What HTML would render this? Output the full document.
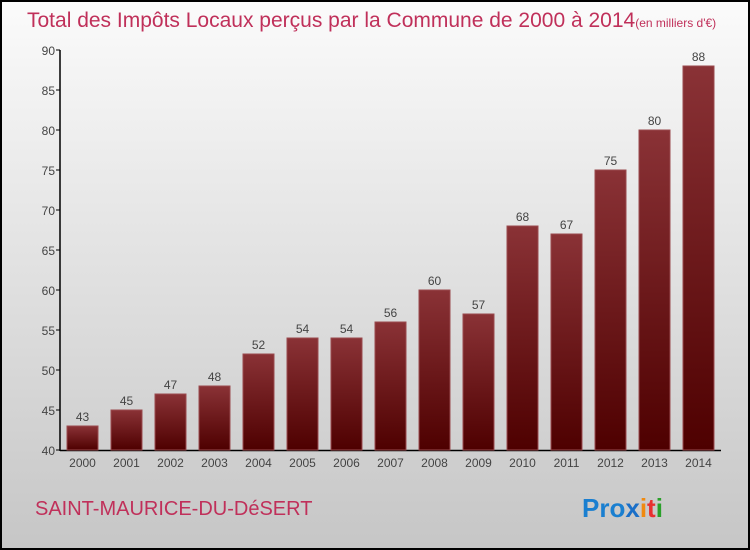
<!DOCTYPE html>
<html><head><meta charset="utf-8"><style>
body{margin:0}
svg{display:block;font-family:"Liberation Sans",sans-serif}
</style></head><body>
<svg id="chart" width="750" height="550" xmlns="http://www.w3.org/2000/svg">
<defs>
<linearGradient id="bg" x1="0" y1="0" x2="0" y2="1"><stop offset="0" stop-color="#fbfbfb"/><stop offset="1" stop-color="#c6c6c6"/></linearGradient>
<linearGradient id="bar" x1="0" y1="0" x2="0" y2="1"><stop offset="0" stop-color="#8a3236"/><stop offset="1" stop-color="#4e0000"/></linearGradient>
</defs>
<rect x="1" y="1" width="748" height="548" fill="url(#bg)" stroke="#000" stroke-width="2"/>
<text x="27" y="27" font-size="21" fill="#c0305a">Total des Impôts Locaux perçus par la Commune de 2000 à 2014<tspan font-size="12">(en milliers d'€)</tspan></text>
<g id="axes"></g>
<g id="bars"></g>
<text x="35" y="515" font-size="20" fill="#c0305a">SAINT-MAURICE-DU-DéSERT</text>
<text x="582" y="517" font-size="26" font-weight="bold"><tspan fill="#1a7fd0">Pro</tspan><tspan fill="#1a6fc8">x</tspan><tspan fill="#f08a10">i</tspan><tspan fill="#e83030">t</tspan><tspan fill="#2aa02a">i</tspan></text>
</svg>
<script>
const years=["2000","2001","2002","2003","2004","2005","2006","2007","2008","2009","2010","2011","2012","2013","2014"];
const values=[43,45,47,48,52,54,54,56,60,57,68,67,75,80,88];
const yTicks=[40,45,50,55,60,65,70,75,80,85,90];
const NS="http://www.w3.org/2000/svg";
const y0=450,yMin=40,pxPer=8;
function yScale(v){return y0-(v-yMin)*pxPer;}
function xScale(i){return 67+i*44;}
function mk(tag,attrs,parent,text){const e=document.createElementNS(NS,tag);for(const k in attrs)e.setAttribute(k,attrs[k]);if(text!==undefined)e.textContent=text;parent.appendChild(e);return e;}
const axes=document.getElementById('axes'),bars=document.getElementById('bars');
let l=mk('line',{x1:60,y1:50,x2:60,y2:451,stroke:'#000','stroke-width':1.5},axes);


l=mk('line',{x1:60,y1:450.5,x2:721,y2:450.5,stroke:'#000','stroke-width':1.5},axes);


yTicks.forEach(t=>{const y=yScale(t);
 const tk=mk('line',{x1:56,y1:y,x2:60,y2:y,stroke:'#000'},axes);
 
 
 const tx=mk('text',{x:55,y:y+5,'text-anchor':'end','font-size':12,fill:'#444'},axes,t);
 
 
});
values.forEach((v,i)=>{const x=xScale(i),y=yScale(v);
 const r=mk('rect',{x:x,y:y,width:31,height:y0-y,fill:'url(#bar)',stroke:'#9a4a4e','stroke-width':1},bars);
 
 
 const t=mk('text',{x:x+15.5,y:y-5,'text-anchor':'middle','font-size':12,fill:'#444'},bars,v);
 
 
 const xl=mk('text',{x:x+15.5,y:467,'text-anchor':'middle','font-size':12,fill:'#444'},bars,years[i]);
 
 
});
</script>
</body></html>
